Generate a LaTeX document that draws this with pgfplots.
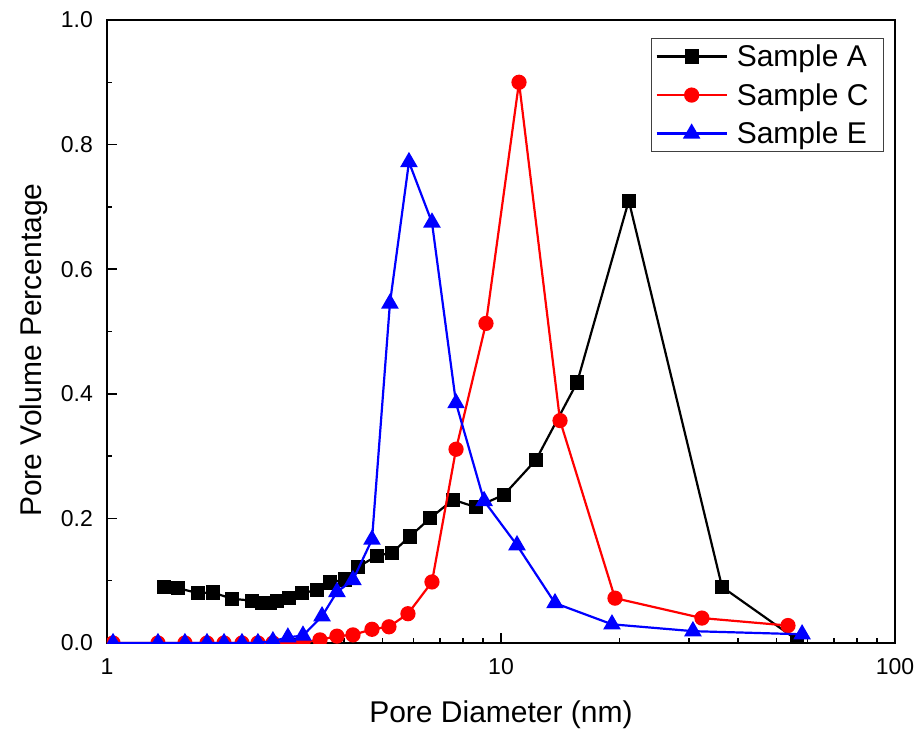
\documentclass[border=0pt]{standalone}
\usepackage{fontspec}
\setmainfont{Liberation Sans}
\usepackage{pgfplots}
\pgfplotsset{compat=1.18}

% pore size distribution of three samples (BJH)
\pgfplotstableread{
d      v
1.395  0.090
1.514  0.088
1.702  0.080
1.858  0.081
2.076  0.071
2.333  0.068
2.474  0.064
2.592  0.064
2.700  0.067
2.896  0.072
3.126  0.080
3.413  0.085
3.681  0.097
4.018  0.102
4.335  0.122
4.845  0.140
5.289  0.145
5.873  0.171
6.603  0.200
7.555  0.230
8.641  0.218
10.18  0.238
12.27  0.294
15.60  0.418
21.10  0.710
36.40  0.090
56.40  0.005
}\sampleA

\pgfplotstableread{
d      v
1.036  0
1.347  0
1.577  0
1.794  0
1.982  0
2.201  0
2.416  0
2.637  0
2.878  0
3.144  0.001
3.472  0.005
3.834  0.011
4.210  0.013
4.705  0.022
5.195  0.026
5.806  0.047
6.680  0.098
7.690  0.311
9.160  0.513
11.11  0.900
14.12  0.357
19.47  0.072
32.36  0.040
53.50  0.028
}\sampleC

\pgfplotstableread{
d      v
1.036  0
1.347  0
1.577  0
1.794  0
1.982  0
2.201  0
2.416  0
2.637  0.003
2.878  0.009
3.144  0.012
3.514  0.043
3.834  0.082
4.210  0.101
4.705  0.166
5.225  0.545
5.840  0.772
6.680  0.675
7.690  0.385
9.060  0.228
10.98  0.157
13.71  0.064
19.13  0.030
30.70  0.019
58.10  0.014
}\sampleE

% legend entry with a little room on its right
\newcommand\entry[1]{#1\hspace*{11bp}}

\begin{document}
\begin{tikzpicture}
\useasboundingbox (-107bp,-89bp) rectangle (812bp,643bp);
\begin{axis}[
  at={(0,0)}, anchor=south west,
  scale only axis, width=788bp, height=623bp,
  xmode=log, xmin=1, xmax=100, ymin=0, ymax=1,
  xtick={1,10,100}, xticklabels={1,10,100},
  minor xtick={2,3,4,5,6,7,8,9,20,30,40,50,60,70,80,90},
  ytick={0,0.2,0.4,0.6,0.8,1.0},
  yticklabels={0.0,0.2,0.4,0.6,0.8,1.0},
  minor ytick={0.1,0.3,0.5,0.7,0.9},
  xtick pos=bottom, ytick pos=left,
  tick align=inside,
  major tick length=10bp, minor tick length=5bp,
  every tick/.style={black, line width=1.5bp},
  axis line style={line width=2bp},
  ticklabel style={font=\fontsize{23bp}{26bp}\selectfont, inner sep=0pt},
  xticklabel style={anchor=north, yshift=-15bp},
  yticklabel style={anchor=east, xshift=-14bp},
  label style={font=\fontsize{30bp}{35bp}\selectfont},
  xlabel={Pore Diameter (nm)},
  ylabel={Pore Volume Percentage},
  xlabel style={at={(axis description cs:0.5,-0.128)}, anchor=base},
  ylabel style={at={(axis description cs:-0.0825,0.470)}, anchor=base, rotate=0},
  clip marker paths=true,
  legend cell align=left,
  legend style={at={(rel axis cs:0.986,0.971)}, anchor=north east,
    draw=black!75, line width=1bp,
    font=\fontsize{30bp}{35bp}\selectfont,
    inner xsep=4bp, inner ysep=8bp,
    row sep=18.5bp, column sep=9bp,
    nodes={inner sep=0pt, text height=20bp, text depth=0bp}},
  legend image code/.code={%
    \draw[mark repeat=2, mark phase=2, #1]
      plot coordinates {(0bp,0bp) (35bp,0bp) (70bp,0bp)};},
]
\addplot[black, line width=2.2bp, mark=square*, mark size=6bp,
  mark options={solid}] table[x=d, y=v] {\sampleA};
\addlegendentry{\entry{Sample A}}
\addplot[red, line width=2.2bp, mark=*, mark size=6.5bp,
  mark options={solid}] table[x=d, y=v] {\sampleC};
\addlegendentry{\entry{Sample C}}
\addplot[blue, line width=2.2bp, mark=triangle*, mark size=8bp,
  mark options={solid}] table[x=d, y=v] {\sampleE};
\addlegendentry{\entry{Sample E}}
\end{axis}
\end{tikzpicture}
\end{document}
